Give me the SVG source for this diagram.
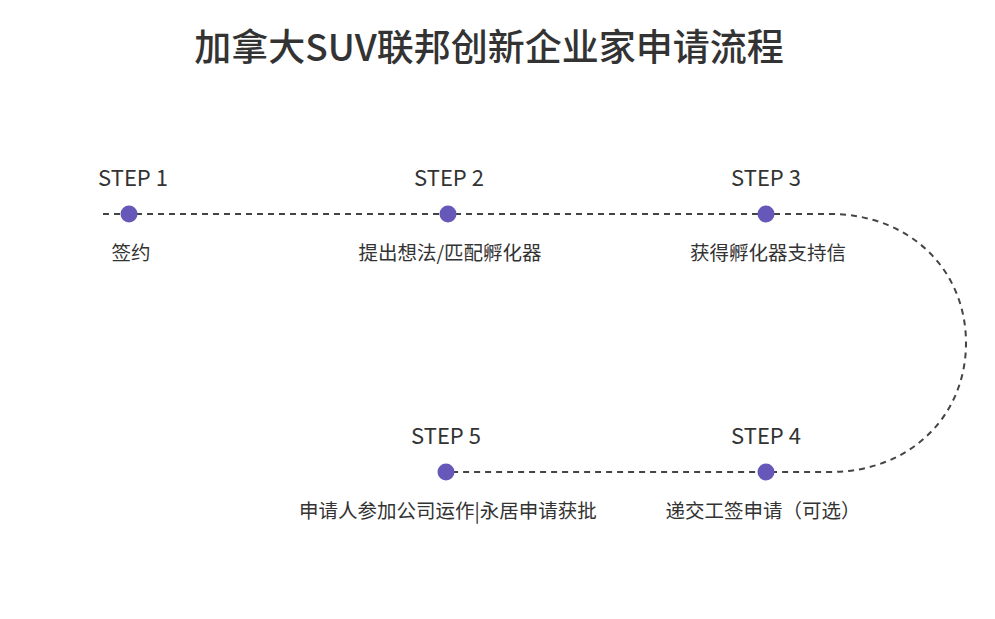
<svg xmlns="http://www.w3.org/2000/svg" width="995" height="619" viewBox="0 0 995 619">
<style>
text{font-family:"Noto Sans CJK SC","Noto Sans",sans-serif;fill:#333}
.t{font-size:37px;font-weight:500;text-anchor:middle}
.s{font-size:22px;text-anchor:middle}
.l{font-size:19.5px;text-anchor:middle}
.d{fill:#6658b8}
</style>
<rect width="995" height="619" fill="#fff"/>
<text class="t" x="489" y="61">加拿大SUV联邦创新企业家申请流程</text>
<g id="connectors">
<path d="M103,214 H830 C910,214 966,270 966,343 C966,416 910,472 830,472 H446" fill="none" stroke="#444" stroke-width="2" stroke-dasharray="6,5"/>
</g>
<g id="step1"><circle class="d" cx="129" cy="214" r="8.5"/><text class="s" x="133" y="186">STEP 1</text><text class="l" x="131" y="260">签约</text></g>
<g id="step2"><circle class="d" cx="448" cy="214" r="8.5"/><text class="s" x="449" y="186">STEP 2</text><text class="l" x="450" y="260">提出想法/匹配孵化器</text></g>
<g id="step3"><circle class="d" cx="766" cy="214" r="8.5"/><text class="s" x="766" y="186">STEP 3</text><text class="l" x="768" y="260">获得孵化器支持信</text></g>
<g id="step4"><circle class="d" cx="766" cy="472" r="8.5"/><text class="s" x="766" y="444">STEP 4</text><text class="l" x="763" y="518">递交工签申请（可选）</text></g>
<g id="step5"><circle class="d" cx="446" cy="472" r="8.5"/><text class="s" x="446" y="444">STEP 5</text><text class="l" x="448" y="518">申请人参加公司运作|永居申请获批</text></g>
</svg>
